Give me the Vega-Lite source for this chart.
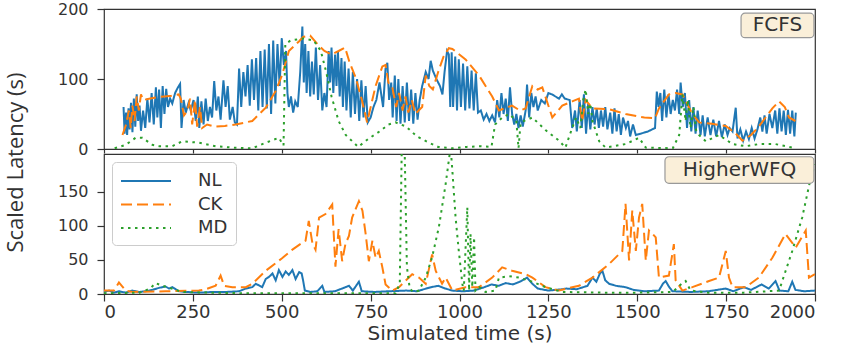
{
"$schema": "https://vega.github.io/schema/vega-lite/v6.json",
"padding": {"left": 3, "top": 0, "right": 20, "bottom": 0},
"background": "white",
"config": {
 "view": {"stroke": "#333", "strokeWidth": 1.2},
 "axis": {"labelFont": "DejaVu Sans", "labelFontSize": 18, "labelColor": "#333", "tickColor": "#333", "tickWidth": 1.2, "domain": false, "grid": false, "tickSize": 7, "labelPadding": 4},
 "axisY": {"labelFontSize": 16},
 "concat": {"spacing": 5}
},
"bounds": "flush",
"resolve": {"scale": {"x": "independent", "y": "independent", "color": "independent", "strokeDash": "independent"}, "legend": {"color": "independent", "strokeDash": "independent"}},
"datasets": {
"fcfs": [
{"s":"NL","t":55,"v":60},{"s":"NL","t":58,"v":22},{"s":"NL","t":62,"v":52},{"s":"NL","t":65,"v":20},{"s":"NL","t":69,"v":58},{"s":"NL","t":72,"v":28},{"s":"NL","t":76,"v":66},{"s":"NL","t":80,"v":24},{"s":"NL","t":84,"v":72},{"s":"NL","t":88,"v":32},{"s":"NL","t":92,"v":78},{"s":"NL","t":96,"v":40},{"s":"NL","t":100,"v":62},{"s":"NL","t":104,"v":26},{"s":"NL","t":110,"v":55},{"s":"NL","t":116,"v":30},{"s":"NL","t":122,"v":72},{"s":"NL","t":128,"v":38},{"s":"NL","t":134,"v":80},{"s":"NL","t":140,"v":35},{"s":"NL","t":146,"v":88},{"s":"NL","t":150,"v":45},{"s":"NL","t":155,"v":85},{"s":"NL","t":160,"v":30},{"s":"NL","t":165,"v":90},{"s":"NL","t":170,"v":50},{"s":"NL","t":175,"v":86},{"s":"NL","t":180,"v":60},{"s":"NL","t":186,"v":72},{"s":"NL","t":192,"v":65},{"s":"NL","t":200,"v":80},{"s":"NL","t":208,"v":88},{"s":"NL","t":214,"v":93},{"s":"NL","t":218,"v":30},{"s":"NL","t":224,"v":70},{"s":"NL","t":230,"v":52},{"s":"NL","t":238,"v":66},{"s":"NL","t":244,"v":55},{"s":"NL","t":252,"v":70},{"s":"NL","t":258,"v":40},{"s":"NL","t":264,"v":75},{"s":"NL","t":268,"v":30},{"s":"NL","t":274,"v":68},{"s":"NL","t":280,"v":35},{"s":"NL","t":286,"v":72},{"s":"NL","t":292,"v":40},{"s":"NL","t":298,"v":60},{"s":"NL","t":304,"v":45},{"s":"NL","t":310,"v":97},{"s":"NL","t":316,"v":55},{"s":"NL","t":322,"v":75},{"s":"NL","t":328,"v":42},{"s":"NL","t":336,"v":98},{"s":"NL","t":342,"v":60},{"s":"NL","t":348,"v":90},{"s":"NL","t":354,"v":42},{"s":"NL","t":362,"v":60},{"s":"NL","t":368,"v":38},{"s":"NL","t":374,"v":35},{"s":"NL","t":380,"v":115},{"s":"NL","t":386,"v":60},{"s":"NL","t":392,"v":110},{"s":"NL","t":398,"v":75},{"s":"NL","t":404,"v":120},{"s":"NL","t":410,"v":62},{"s":"NL","t":416,"v":128},{"s":"NL","t":422,"v":70},{"s":"NL","t":428,"v":130},{"s":"NL","t":434,"v":55},{"s":"NL","t":440,"v":140},{"s":"NL","t":446,"v":60},{"s":"NL","t":452,"v":142},{"s":"NL","t":458,"v":58},{"s":"NL","t":464,"v":150},{"s":"NL","t":470,"v":50},{"s":"NL","t":476,"v":155},{"s":"NL","t":482,"v":65},{"s":"NL","t":488,"v":150},{"s":"NL","t":494,"v":90},{"s":"NL","t":500,"v":158},{"s":"NL","t":506,"v":120},{"s":"NL","t":512,"v":140},{"s":"NL","t":516,"v":80},{"s":"NL","t":520,"v":60},{"s":"NL","t":526,"v":75},{"s":"NL","t":532,"v":52},{"s":"NL","t":538,"v":68},{"s":"NL","t":545,"v":60},{"s":"NL","t":552,"v":110},{"s":"NL","t":558,"v":175},{"s":"NL","t":562,"v":95},{"s":"NL","t":566,"v":150},{"s":"NL","t":570,"v":80},{"s":"NL","t":575,"v":140},{"s":"NL","t":580,"v":75},{"s":"NL","t":585,"v":125},{"s":"NL","t":590,"v":78},{"s":"NL","t":596,"v":145},{"s":"NL","t":602,"v":70},{"s":"NL","t":608,"v":120},{"s":"NL","t":614,"v":55},{"s":"NL","t":620,"v":80},{"s":"NL","t":626,"v":60},{"s":"NL","t":632,"v":140},{"s":"NL","t":636,"v":95},{"s":"NL","t":640,"v":145},{"s":"NL","t":645,"v":80},{"s":"NL","t":650,"v":135},{"s":"NL","t":654,"v":90},{"s":"NL","t":658,"v":140},{"s":"NL","t":663,"v":75},{"s":"NL","t":668,"v":130},{"s":"NL","t":672,"v":60},{"s":"NL","t":677,"v":125},{"s":"NL","t":682,"v":55},{"s":"NL","t":688,"v":115},{"s":"NL","t":694,"v":45},{"s":"NL","t":700,"v":110},{"s":"NL","t":706,"v":50},{"s":"NL","t":712,"v":100},{"s":"NL","t":718,"v":40},{"s":"NL","t":724,"v":98},{"s":"NL","t":730,"v":45},{"s":"NL","t":736,"v":90},{"s":"NL","t":742,"v":38},{"s":"NL","t":750,"v":45},{"s":"NL","t":758,"v":60},{"s":"NL","t":766,"v":70},{"s":"NL","t":775,"v":95},{"s":"NL","t":785,"v":60},{"s":"NL","t":792,"v":115},{"s":"NL","t":797,"v":123},{"s":"NL","t":802,"v":70},{"s":"NL","t":808,"v":95},{"s":"NL","t":812,"v":45},{"s":"NL","t":818,"v":105},{"s":"NL","t":823,"v":40},{"s":"NL","t":828,"v":100},{"s":"NL","t":834,"v":36},{"s":"NL","t":840,"v":90},{"s":"NL","t":846,"v":38},{"s":"NL","t":852,"v":95},{"s":"NL","t":858,"v":40},{"s":"NL","t":864,"v":85},{"s":"NL","t":870,"v":36},{"s":"NL","t":876,"v":80},{"s":"NL","t":882,"v":42},{"s":"NL","t":888,"v":70},{"s":"NL","t":895,"v":90},{"s":"NL","t":905,"v":110},{"s":"NL","t":913,"v":100},{"s":"NL","t":919,"v":126},{"s":"NL","t":925,"v":112},{"s":"NL","t":935,"v":100},{"s":"NL","t":945,"v":90},{"s":"NL","t":952,"v":78},{"s":"NL","t":958,"v":110},{"s":"NL","t":965,"v":140},{"s":"NL","t":970,"v":135},{"s":"NL","t":974,"v":60},{"s":"NL","t":978,"v":138},{"s":"NL","t":982,"v":60},{"s":"NL","t":988,"v":132},{"s":"NL","t":993,"v":55},{"s":"NL","t":998,"v":128},{"s":"NL","t":1004,"v":60},{"s":"NL","t":1010,"v":122},{"s":"NL","t":1016,"v":55},{"s":"NL","t":1022,"v":118},{"s":"NL","t":1028,"v":58},{"s":"NL","t":1034,"v":112},{"s":"NL","t":1040,"v":55},{"s":"NL","t":1046,"v":108},{"s":"NL","t":1052,"v":52},{"s":"NL","t":1060,"v":55},{"s":"NL","t":1068,"v":42},{"s":"NL","t":1076,"v":50},{"s":"NL","t":1084,"v":40},{"s":"NL","t":1092,"v":48},{"s":"NL","t":1100,"v":38},{"s":"NL","t":1106,"v":70},{"s":"NL","t":1112,"v":45},{"s":"NL","t":1118,"v":80},{"s":"NL","t":1124,"v":50},{"s":"NL","t":1130,"v":72},{"s":"NL","t":1136,"v":40},{"s":"NL","t":1142,"v":88},{"s":"NL","t":1148,"v":50},{"s":"NL","t":1154,"v":35},{"s":"NL","t":1160,"v":50},{"s":"NL","t":1166,"v":30},{"s":"NL","t":1172,"v":48},{"s":"NL","t":1178,"v":32},{"s":"NL","t":1186,"v":55},{"s":"NL","t":1190,"v":92},{"s":"NL","t":1196,"v":45},{"s":"NL","t":1202,"v":80},{"s":"NL","t":1208,"v":60},{"s":"NL","t":1214,"v":75},{"s":"NL","t":1220,"v":55},{"s":"NL","t":1230,"v":70},{"s":"NL","t":1240,"v":65},{"s":"NL","t":1250,"v":80},{"s":"NL","t":1260,"v":78},{"s":"NL","t":1270,"v":75},{"s":"NL","t":1280,"v":72},{"s":"NL","t":1288,"v":78},{"s":"NL","t":1296,"v":72},{"s":"NL","t":1310,"v":70},{"s":"NL","t":1317,"v":30},{"s":"NL","t":1325,"v":55},{"s":"NL","t":1330,"v":25},{"s":"NL","t":1338,"v":70},{"s":"NL","t":1344,"v":30},{"s":"NL","t":1350,"v":78},{"s":"NL","t":1356,"v":22},{"s":"NL","t":1362,"v":65},{"s":"NL","t":1368,"v":28},{"s":"NL","t":1374,"v":60},{"s":"NL","t":1380,"v":35},{"s":"NL","t":1386,"v":58},{"s":"NL","t":1392,"v":30},{"s":"NL","t":1398,"v":55},{"s":"NL","t":1404,"v":32},{"s":"NL","t":1410,"v":60},{"s":"NL","t":1416,"v":28},{"s":"NL","t":1424,"v":52},{"s":"NL","t":1430,"v":22},{"s":"NL","t":1436,"v":58},{"s":"NL","t":1442,"v":25},{"s":"NL","t":1448,"v":50},{"s":"NL","t":1454,"v":20},{"s":"NL","t":1460,"v":45},{"s":"NL","t":1468,"v":30},{"s":"NL","t":1474,"v":40},{"s":"NL","t":1480,"v":18},{"s":"NL","t":1488,"v":35},{"s":"NL","t":1496,"v":20},{"s":"NL","t":1510,"v":22},{"s":"NL","t":1530,"v":25},{"s":"NL","t":1550,"v":30},{"s":"NL","t":1555,"v":82},{"s":"NL","t":1560,"v":60},{"s":"NL","t":1565,"v":80},{"s":"NL","t":1570,"v":40},{"s":"NL","t":1576,"v":85},{"s":"NL","t":1582,"v":45},{"s":"NL","t":1588,"v":78},{"s":"NL","t":1594,"v":50},{"s":"NL","t":1600,"v":70},{"s":"NL","t":1606,"v":55},{"s":"NL","t":1612,"v":85},{"s":"NL","t":1618,"v":50},{"s":"NL","t":1622,"v":95},{"s":"NL","t":1628,"v":60},{"s":"NL","t":1634,"v":80},{"s":"NL","t":1640,"v":30},{"s":"NL","t":1646,"v":70},{"s":"NL","t":1652,"v":25},{"s":"NL","t":1658,"v":60},{"s":"NL","t":1664,"v":22},{"s":"NL","t":1670,"v":55},{"s":"NL","t":1678,"v":20},{"s":"NL","t":1684,"v":48},{"s":"NL","t":1690,"v":18},{"s":"NL","t":1698,"v":45},{"s":"NL","t":1706,"v":20},{"s":"NL","t":1714,"v":42},{"s":"NL","t":1722,"v":18},{"s":"NL","t":1730,"v":40},{"s":"NL","t":1738,"v":17},{"s":"NL","t":1746,"v":35},{"s":"NL","t":1754,"v":20},{"s":"NL","t":1760,"v":30},{"s":"NL","t":1768,"v":25},{"s":"NL","t":1777,"v":59},{"s":"NL","t":1782,"v":15},{"s":"NL","t":1790,"v":28},{"s":"NL","t":1798,"v":12},{"s":"NL","t":1806,"v":25},{"s":"NL","t":1814,"v":14},{"s":"NL","t":1822,"v":30},{"s":"NL","t":1830,"v":15},{"s":"NL","t":1838,"v":28},{"s":"NL","t":1846,"v":45},{"s":"NL","t":1852,"v":25},{"s":"NL","t":1858,"v":48},{"s":"NL","t":1864,"v":22},{"s":"NL","t":1872,"v":50},{"s":"NL","t":1880,"v":30},{"s":"NL","t":1888,"v":55},{"s":"NL","t":1894,"v":22},{"s":"NL","t":1900,"v":58},{"s":"NL","t":1906,"v":25},{"s":"NL","t":1912,"v":55},{"s":"NL","t":1918,"v":20},{"s":"NL","t":1924,"v":56},{"s":"NL","t":1930,"v":22},{"s":"NL","t":1936,"v":55},{"s":"NL","t":1942,"v":18},{"s":"NL","t":1946,"v":52},
{"s":"CK","t":52,"v":20},{"s":"CK","t":62,"v":35},{"s":"CK","t":70,"v":55},{"s":"CK","t":75,"v":30},{"s":"CK","t":80,"v":62},{"s":"CK","t":86,"v":40},{"s":"CK","t":92,"v":75},{"s":"CK","t":98,"v":55},{"s":"CK","t":104,"v":78},{"s":"CK","t":110,"v":70},{"s":"CK","t":130,"v":72},{"s":"CK","t":150,"v":74},{"s":"CK","t":170,"v":75},{"s":"CK","t":190,"v":76},{"s":"CK","t":210,"v":78},{"s":"CK","t":216,"v":72},{"s":"CK","t":225,"v":48},{"s":"CK","t":235,"v":55},{"s":"CK","t":242,"v":72},{"s":"CK","t":248,"v":35},{"s":"CK","t":256,"v":70},{"s":"CK","t":262,"v":32},{"s":"CK","t":270,"v":60},{"s":"CK","t":276,"v":30},{"s":"CK","t":290,"v":35},{"s":"CK","t":310,"v":32},{"s":"CK","t":340,"v":33},{"s":"CK","t":370,"v":35},{"s":"CK","t":417,"v":40},{"s":"CK","t":455,"v":59},{"s":"CK","t":483,"v":83},{"s":"CK","t":502,"v":107},{"s":"CK","t":520,"v":140},{"s":"CK","t":549,"v":154},{"s":"CK","t":560,"v":160},{"s":"CK","t":580,"v":162},{"s":"CK","t":600,"v":150},{"s":"CK","t":620,"v":140},{"s":"CK","t":640,"v":135},{"s":"CK","t":660,"v":140},{"s":"CK","t":678,"v":145},{"s":"CK","t":690,"v":125},{"s":"CK","t":708,"v":102},{"s":"CK","t":726,"v":69},{"s":"CK","t":740,"v":38},{"s":"CK","t":764,"v":90},{"s":"CK","t":783,"v":118},{"s":"CK","t":792,"v":120},{"s":"CK","t":800,"v":95},{"s":"CK","t":811,"v":88},{"s":"CK","t":822,"v":60},{"s":"CK","t":830,"v":80},{"s":"CK","t":840,"v":55},{"s":"CK","t":848,"v":75},{"s":"CK","t":856,"v":52},{"s":"CK","t":866,"v":70},{"s":"CK","t":876,"v":50},{"s":"CK","t":885,"v":55},{"s":"CK","t":895,"v":60},{"s":"CK","t":905,"v":105},{"s":"CK","t":915,"v":90},{"s":"CK","t":925,"v":85},{"s":"CK","t":940,"v":110},{"s":"CK","t":955,"v":132},{"s":"CK","t":970,"v":144},{"s":"CK","t":980,"v":143},{"s":"CK","t":1017,"v":128},{"s":"CK","t":1055,"v":105},{"s":"CK","t":1092,"v":75},{"s":"CK","t":1111,"v":55},{"s":"CK","t":1148,"v":62},{"s":"CK","t":1170,"v":55},{"s":"CK","t":1186,"v":58},{"s":"CK","t":1205,"v":90},{"s":"CK","t":1220,"v":85},{"s":"CK","t":1233,"v":88},{"s":"CK","t":1261,"v":45},{"s":"CK","t":1289,"v":62},{"s":"CK","t":1317,"v":68},{"s":"CK","t":1336,"v":72},{"s":"CK","t":1345,"v":40},{"s":"CK","t":1355,"v":70},{"s":"CK","t":1374,"v":58},{"s":"CK","t":1420,"v":57},{"s":"CK","t":1467,"v":50},{"s":"CK","t":1520,"v":45},{"s":"CK","t":1550,"v":44},{"s":"CK","t":1561,"v":58},{"s":"CK","t":1589,"v":78},{"s":"CK","t":1608,"v":80},{"s":"CK","t":1627,"v":78},{"s":"CK","t":1655,"v":50},{"s":"CK","t":1674,"v":38},{"s":"CK","t":1710,"v":36},{"s":"CK","t":1749,"v":33},{"s":"CK","t":1777,"v":22},{"s":"CK","t":1796,"v":12},{"s":"CK","t":1820,"v":20},{"s":"CK","t":1842,"v":32},{"s":"CK","t":1861,"v":45},{"s":"CK","t":1880,"v":58},{"s":"CK","t":1899,"v":68},{"s":"CK","t":1915,"v":60},{"s":"CK","t":1927,"v":45},{"s":"CK","t":1945,"v":40},
{"s":"MD","t":30,"v":1},{"s":"MD","t":61,"v":6},{"s":"MD","t":89,"v":16},{"s":"MD","t":108,"v":16},{"s":"MD","t":136,"v":6},{"s":"MD","t":155,"v":4},{"s":"MD","t":192,"v":4},{"s":"MD","t":220,"v":11},{"s":"MD","t":267,"v":9},{"s":"MD","t":314,"v":4},{"s":"MD","t":361,"v":2},{"s":"MD","t":417,"v":1},{"s":"MD","t":455,"v":9},{"s":"MD","t":492,"v":16},{"s":"MD","t":505,"v":5},{"s":"MD","t":510,"v":150},{"s":"MD","t":525,"v":155},{"s":"MD","t":560,"v":158},{"s":"MD","t":590,"v":155},{"s":"MD","t":610,"v":140},{"s":"MD","t":625,"v":110},{"s":"MD","t":640,"v":75},{"s":"MD","t":660,"v":40},{"s":"MD","t":680,"v":20},{"s":"MD","t":715,"v":3},{"s":"MD","t":745,"v":15},{"s":"MD","t":775,"v":25},{"s":"MD","t":800,"v":35},{"s":"MD","t":820,"v":38},{"s":"MD","t":850,"v":32},{"s":"MD","t":880,"v":18},{"s":"MD","t":910,"v":10},{"s":"MD","t":940,"v":3},{"s":"MD","t":980,"v":1},{"s":"MD","t":1020,"v":3},{"s":"MD","t":1060,"v":4},{"s":"MD","t":1090,"v":3},{"s":"MD","t":1100,"v":35},{"s":"MD","t":1120,"v":45},{"s":"MD","t":1140,"v":50},{"s":"MD","t":1160,"v":40},{"s":"MD","t":1166,"v":1},{"s":"MD","t":1172,"v":38},{"s":"MD","t":1205,"v":45},{"s":"MD","t":1242,"v":27},{"s":"MD","t":1280,"v":12},{"s":"MD","t":1298,"v":2},{"s":"MD","t":1310,"v":20},{"s":"MD","t":1328,"v":45},{"s":"MD","t":1340,"v":30},{"s":"MD","t":1348,"v":70},{"s":"MD","t":1355,"v":85},{"s":"MD","t":1362,"v":50},{"s":"MD","t":1368,"v":65},{"s":"MD","t":1374,"v":40},{"s":"MD","t":1393,"v":11},{"s":"MD","t":1411,"v":2},{"s":"MD","t":1467,"v":7},{"s":"MD","t":1505,"v":16},{"s":"MD","t":1524,"v":2},{"s":"MD","t":1600,"v":1},{"s":"MD","t":1618,"v":20},{"s":"MD","t":1627,"v":78},{"s":"MD","t":1636,"v":40},{"s":"MD","t":1642,"v":70},{"s":"MD","t":1650,"v":30},{"s":"MD","t":1658,"v":60},{"s":"MD","t":1666,"v":25},{"s":"MD","t":1674,"v":20},{"s":"MD","t":1693,"v":11},{"s":"MD","t":1730,"v":20},{"s":"MD","t":1768,"v":7},{"s":"MD","t":1805,"v":4},{"s":"MD","t":1842,"v":7},{"s":"MD","t":1889,"v":7},{"s":"MD","t":1936,"v":2}
],
"wfq": [
{"s":"NL","t":0,"v":3},{"s":"NL","t":14,"v":5},{"s":"NL","t":28,"v":2},{"s":"NL","t":42,"v":4},{"s":"NL","t":61,"v":2},{"s":"NL","t":80,"v":5},{"s":"NL","t":98,"v":3},{"s":"NL","t":117,"v":4},{"s":"NL","t":136,"v":6},{"s":"NL","t":155,"v":9},{"s":"NL","t":173,"v":11},{"s":"NL","t":183,"v":8},{"s":"NL","t":192,"v":10},{"s":"NL","t":211,"v":4},{"s":"NL","t":230,"v":3},{"s":"NL","t":267,"v":2},{"s":"NL","t":305,"v":3},{"s":"NL","t":342,"v":3},{"s":"NL","t":380,"v":4},{"s":"NL","t":399,"v":8},{"s":"NL","t":417,"v":10},{"s":"NL","t":427,"v":15},{"s":"NL","t":445,"v":10},{"s":"NL","t":455,"v":22},{"s":"NL","t":464,"v":25},{"s":"NL","t":474,"v":30},{"s":"NL","t":483,"v":20},{"s":"NL","t":492,"v":35},{"s":"NL","t":502,"v":25},{"s":"NL","t":511,"v":33},{"s":"NL","t":520,"v":28},{"s":"NL","t":530,"v":35},{"s":"NL","t":539,"v":22},{"s":"NL","t":549,"v":32},{"s":"NL","t":556,"v":30},{"s":"NL","t":560,"v":20},{"s":"NL","t":565,"v":5},{"s":"NL","t":580,"v":3},{"s":"NL","t":600,"v":4},{"s":"NL","t":614,"v":12},{"s":"NL","t":620,"v":3},{"s":"NL","t":650,"v":4},{"s":"NL","t":689,"v":12},{"s":"NL","t":700,"v":5},{"s":"NL","t":717,"v":18},{"s":"NL","t":725,"v":4},{"s":"NL","t":760,"v":3},{"s":"NL","t":800,"v":4},{"s":"NL","t":850,"v":5},{"s":"NL","t":880,"v":4},{"s":"NL","t":920,"v":10},{"s":"NL","t":940,"v":12},{"s":"NL","t":960,"v":8},{"s":"NL","t":980,"v":5},{"s":"NL","t":1010,"v":4},{"s":"NL","t":1040,"v":5},{"s":"NL","t":1070,"v":10},{"s":"NL","t":1090,"v":14},{"s":"NL","t":1110,"v":12},{"s":"NL","t":1130,"v":16},{"s":"NL","t":1150,"v":14},{"s":"NL","t":1170,"v":18},{"s":"NL","t":1190,"v":24},{"s":"NL","t":1205,"v":15},{"s":"NL","t":1220,"v":8},{"s":"NL","t":1250,"v":5},{"s":"NL","t":1290,"v":7},{"s":"NL","t":1300,"v":8},{"s":"NL","t":1330,"v":7},{"s":"NL","t":1360,"v":12},{"s":"NL","t":1374,"v":24},{"s":"NL","t":1385,"v":18},{"s":"NL","t":1395,"v":30},{"s":"NL","t":1402,"v":34},{"s":"NL","t":1410,"v":20},{"s":"NL","t":1421,"v":15},{"s":"NL","t":1440,"v":12},{"s":"NL","t":1467,"v":10},{"s":"NL","t":1490,"v":6},{"s":"NL","t":1520,"v":4},{"s":"NL","t":1561,"v":5},{"s":"NL","t":1572,"v":15},{"s":"NL","t":1580,"v":19},{"s":"NL","t":1590,"v":10},{"s":"NL","t":1599,"v":4},{"s":"NL","t":1650,"v":3},{"s":"NL","t":1700,"v":4},{"s":"NL","t":1749,"v":8},{"s":"NL","t":1770,"v":4},{"s":"NL","t":1800,"v":10},{"s":"NL","t":1820,"v":6},{"s":"NL","t":1850,"v":14},{"s":"NL","t":1870,"v":8},{"s":"NL","t":1889,"v":19},{"s":"NL","t":1900,"v":5},{"s":"NL","t":1925,"v":4},{"s":"NL","t":1936,"v":18},{"s":"NL","t":1945,"v":6},{"s":"NL","t":1970,"v":4},{"s":"NL","t":2000,"v":5},
{"s":"CK","t":0,"v":5},{"s":"CK","t":28,"v":5},{"s":"CK","t":42,"v":17},{"s":"CK","t":50,"v":12},{"s":"CK","t":61,"v":5},{"s":"CK","t":80,"v":3},{"s":"CK","t":173,"v":4},{"s":"CK","t":267,"v":5},{"s":"CK","t":286,"v":7},{"s":"CK","t":314,"v":12},{"s":"CK","t":328,"v":27},{"s":"CK","t":338,"v":12},{"s":"CK","t":361,"v":10},{"s":"CK","t":399,"v":10},{"s":"CK","t":417,"v":15},{"s":"CK","t":455,"v":34},{"s":"CK","t":500,"v":52},{"s":"CK","t":530,"v":65},{"s":"CK","t":549,"v":72},{"s":"CK","t":567,"v":78},{"s":"CK","t":576,"v":107},{"s":"CK","t":586,"v":75},{"s":"CK","t":595,"v":65},{"s":"CK","t":605,"v":112},{"s":"CK","t":623,"v":117},{"s":"CK","t":642,"v":131},{"s":"CK","t":651,"v":40},{"s":"CK","t":660,"v":95},{"s":"CK","t":670,"v":48},{"s":"CK","t":679,"v":73},{"s":"CK","t":689,"v":85},{"s":"CK","t":698,"v":112},{"s":"CK","t":717,"v":136},{"s":"CK","t":727,"v":122},{"s":"CK","t":736,"v":88},{"s":"CK","t":745,"v":48},{"s":"CK","t":755,"v":78},{"s":"CK","t":764,"v":53},{"s":"CK","t":773,"v":63},{"s":"CK","t":783,"v":39},{"s":"CK","t":792,"v":14},{"s":"CK","t":811,"v":5},{"s":"CK","t":830,"v":10},{"s":"CK","t":867,"v":29},{"s":"CK","t":886,"v":24},{"s":"CK","t":905,"v":15},{"s":"CK","t":923,"v":58},{"s":"CK","t":933,"v":34},{"s":"CK","t":951,"v":15},{"s":"CK","t":961,"v":24},{"s":"CK","t":980,"v":5},{"s":"CK","t":1017,"v":10},{"s":"CK","t":1055,"v":10},{"s":"CK","t":1092,"v":24},{"s":"CK","t":1120,"v":39},{"s":"CK","t":1148,"v":34},{"s":"CK","t":1186,"v":29},{"s":"CK","t":1205,"v":24},{"s":"CK","t":1242,"v":10},{"s":"CK","t":1280,"v":5},{"s":"CK","t":1317,"v":10},{"s":"CK","t":1336,"v":12},{"s":"CK","t":1374,"v":24},{"s":"CK","t":1421,"v":44},{"s":"CK","t":1458,"v":63},{"s":"CK","t":1467,"v":132},{"s":"CK","t":1477,"v":49},{"s":"CK","t":1486,"v":122},{"s":"CK","t":1496,"v":63},{"s":"CK","t":1505,"v":112},{"s":"CK","t":1514,"v":132},{"s":"CK","t":1524,"v":49},{"s":"CK","t":1533,"v":93},{"s":"CK","t":1543,"v":88},{"s":"CK","t":1552,"v":83},{"s":"CK","t":1561,"v":24},{"s":"CK","t":1589,"v":27},{"s":"CK","t":1603,"v":73},{"s":"CK","t":1608,"v":20},{"s":"CK","t":1627,"v":5},{"s":"CK","t":1655,"v":10},{"s":"CK","t":1702,"v":19},{"s":"CK","t":1730,"v":24},{"s":"CK","t":1749,"v":63},{"s":"CK","t":1758,"v":24},{"s":"CK","t":1768,"v":10},{"s":"CK","t":1805,"v":10},{"s":"CK","t":1842,"v":24},{"s":"CK","t":1880,"v":53},{"s":"CK","t":1917,"v":88},{"s":"CK","t":1946,"v":68},{"s":"CK","t":1974,"v":93},{"s":"CK","t":1983,"v":24},{"s":"CK","t":2000,"v":29},
{"s":"MD","t":0,"v":1},{"s":"MD","t":100,"v":2},{"s":"MD","t":130,"v":8},{"s":"MD","t":145,"v":16},{"s":"MD","t":165,"v":12},{"s":"MD","t":190,"v":8},{"s":"MD","t":220,"v":3},{"s":"MD","t":300,"v":2},{"s":"MD","t":400,"v":1},{"s":"MD","t":500,"v":1},{"s":"MD","t":600,"v":1},{"s":"MD","t":700,"v":1},{"s":"MD","t":820,"v":1},{"s":"MD","t":832,"v":15},{"s":"MD","t":838,"v":230},{"s":"MD","t":845,"v":230},{"s":"MD","t":852,"v":40},{"s":"MD","t":860,"v":8},{"s":"MD","t":870,"v":3},{"s":"MD","t":886,"v":5},{"s":"MD","t":905,"v":24},{"s":"MD","t":923,"v":54},{"s":"MD","t":942,"v":98},{"s":"MD","t":961,"v":161},{"s":"MD","t":975,"v":215},{"s":"MD","t":980,"v":180},{"s":"MD","t":989,"v":112},{"s":"MD","t":998,"v":63},{"s":"MD","t":1008,"v":15},{"s":"MD","t":1012,"v":5},{"s":"MD","t":1022,"v":127},{"s":"MD","t":1027,"v":5},{"s":"MD","t":1031,"v":88},{"s":"MD","t":1036,"v":10},{"s":"MD","t":1041,"v":83},{"s":"MD","t":1045,"v":5},{"s":"MD","t":1055,"v":10},{"s":"MD","t":1073,"v":3},{"s":"MD","t":1101,"v":5},{"s":"MD","t":1111,"v":24},{"s":"MD","t":1140,"v":26},{"s":"MD","t":1167,"v":24},{"s":"MD","t":1205,"v":18},{"s":"MD","t":1242,"v":10},{"s":"MD","t":1289,"v":3},{"s":"MD","t":1400,"v":2},{"s":"MD","t":1500,"v":2},{"s":"MD","t":1600,"v":3},{"s":"MD","t":1625,"v":15},{"s":"MD","t":1636,"v":19},{"s":"MD","t":1650,"v":5},{"s":"MD","t":1700,"v":2},{"s":"MD","t":1800,"v":2},{"s":"MD","t":1899,"v":5},{"s":"MD","t":1936,"v":63},{"s":"MD","t":1964,"v":112},{"s":"MD","t":1988,"v":170},{"s":"MD","t":2000,"v":190}
]
},
"vconcat": [
{
 "width": 711, "height": 140,
 "layer": [
  {
   "data": {"name": "fcfs"},
   "mark": {"type": "line", "strokeWidth": 2, "clip": true},
   "encoding": {
    "x": {"field": "t", "type": "quantitative", "scale": {"domain": [0, 2000], "nice": false}, "axis": {"values": [0, 250, 500, 750, 1000, 1250, 1500, 1750, 2000], "labels": false, "title": null, "tickSize": 4}},
    "y": {"field": "v", "type": "quantitative", "scale": {"domain": [0, 200], "nice": false}, "axis": {"values": [0, 50, 100, 150, 200], "labelPadding": 9, "title": "Scaled Latency (s)", "titleX": -89, "titleY": 153, "titleAngle": 270, "titleAlign": "center", "titleBaseline": "middle", "titleFont": "Open Sans", "titleFontSize": 22, "titleFontWeight": "normal", "titleColor": "#333"}},
    "color": {"field": "s", "type": "nominal", "scale": {"domain": ["NL", "CK", "MD"], "range": ["#1f77b4", "#ff7f0e", "#2ca02c"]}, "legend": null},
    "strokeDash": {"field": "s", "type": "nominal", "scale": {"domain": ["NL", "CK", "MD"], "range": [[1, 0], [11, 5], [2.5, 4.5]]}, "legend": null}
   }
  },
  {
   "data": {"values": [{"label": "FCFS"}]},
   "mark": {"type": "rect", "fill": "#faefd9", "stroke": "#999", "strokeWidth": 1.2, "cornerRadius": 4},
   "encoding": {"x": {"datum": 1792, "type": "quantitative"}, "x2": {"datum": 1997}, "y": {"datum": 159, "type": "quantitative"}, "y2": {"datum": 194}}
  },
  {
   "data": {"values": [{"label": "FCFS"}]},
   "mark": {"type": "text", "font": "DejaVu Sans", "fontSize": 20, "color": "#333", "align": "center", "baseline": "middle"},
   "encoding": {"x": {"datum": 1894.5, "type": "quantitative"}, "y": {"datum": 176.5, "type": "quantitative"}, "text": {"field": "label"}}
  }
 ]
},
{
 "width": 711, "height": 140,
 "layer": [
  {
   "data": {"name": "wfq"},
   "mark": {"type": "line", "strokeWidth": 2, "clip": true},
   "encoding": {
    "x": {"field": "t", "type": "quantitative", "scale": {"domain": [0, 2000], "nice": false}, "axis": {"values": [0, 250, 500, 750, 1000, 1250, 1500, 1750, 2000], "format": "d", "title": "Simulated time (s)", "titleFont": "DejaVu Sans", "titleFontSize": 20, "titleFontWeight": "normal", "titleColor": "#333", "titlePadding": 2, "labelPadding": 2}},
    "y": {"field": "v", "type": "quantitative", "scale": {"domain": [0, 205], "nice": false}, "axis": {"values": [0, 50, 100, 150], "labelPadding": 9, "title": null}},
    "color": {"field": "s", "type": "nominal", "scale": {"domain": ["NL", "CK", "MD"], "range": ["#1f77b4", "#ff7f0e", "#2ca02c"]}, "legend": {"title": null, "orient": "top-left", "offset": 8, "symbolType": "M-1,0H4", "symbolSize": 400, "symbolStrokeWidth": 2, "labelFont": "DejaVu Sans", "labelFontSize": 18, "labelColor": "#333", "labelOffset": 56, "rowPadding": 3.5, "padding": 8, "fillColor": "rgba(255,255,255,0.85)", "strokeColor": "#ccc", "cornerRadius": 4}},
    "strokeDash": {"field": "s", "type": "nominal", "scale": {"domain": ["NL", "CK", "MD"], "range": [[1, 0], [11, 5], [2.5, 4.5]]}, "legend": {"title": null, "orient": "top-left", "offset": 8, "symbolType": "M-1,0H4", "symbolSize": 400, "symbolStrokeWidth": 2, "labelFont": "DejaVu Sans", "labelFontSize": 18, "labelColor": "#333", "labelOffset": 56, "rowPadding": 3.5, "padding": 8, "fillColor": "rgba(255,255,255,0.85)", "strokeColor": "#ccc", "cornerRadius": 4}}
   }
  },
  {
   "data": {"values": [{"label": "HigherWFQ"}]},
   "mark": {"type": "rect", "fill": "#faefd9", "stroke": "#999", "strokeWidth": 1.2, "cornerRadius": 4},
   "encoding": {"x": {"datum": 1578, "type": "quantitative"}, "x2": {"datum": 1997}, "y": {"datum": 162, "type": "quantitative"}, "y2": {"datum": 201}}
  },
  {
   "data": {"values": [{"label": "HigherWFQ"}]},
   "mark": {"type": "text", "font": "DejaVu Sans", "fontSize": 20, "color": "#333", "align": "center", "baseline": "middle"},
   "encoding": {"x": {"datum": 1787.5, "type": "quantitative"}, "y": {"datum": 181.5, "type": "quantitative"}, "text": {"field": "label"}}
  }
 ]
}
]
}
